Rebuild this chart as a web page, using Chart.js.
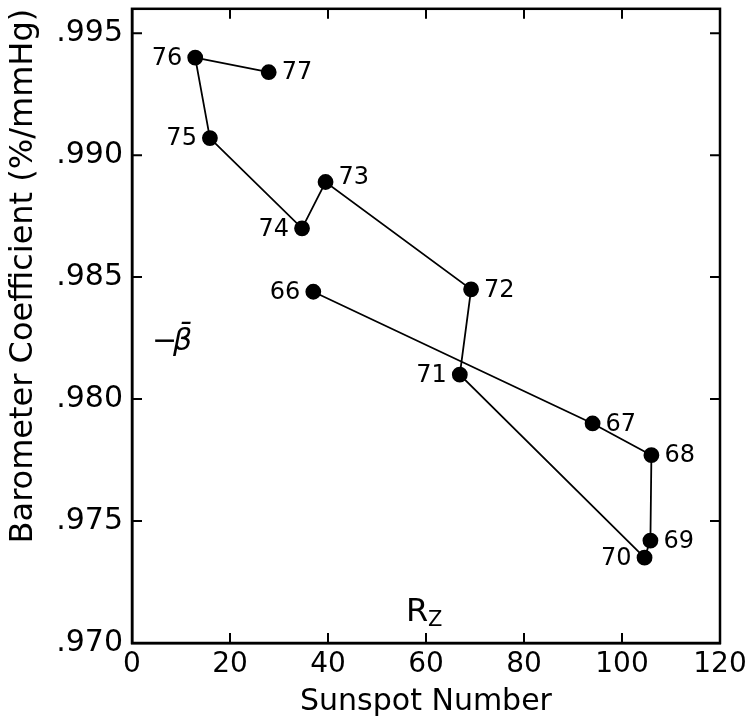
<!DOCTYPE html>
<html><head><meta charset="utf-8">
<script src="https://cdn.jsdelivr.net/npm/chart.js@4"></script>
<style>html,body{margin:0;padding:0;background:#fff}#wrap{width:748px;height:724px;position:relative}</style>
</head><body><div id="wrap"><canvas id="c"></canvas></div>
<script>
// ---- data ----
const years = ['66','67','68','69','70','71','72','73','74','75','76','77'];
const sunspotNumber = [37.0, 94.0, 106.0, 105.8, 104.6, 66.9, 69.2, 39.5, 34.7, 15.9, 12.9, 27.9];
const baroCoeff = [0.9844, 0.9790, 0.9777, 0.9742, 0.9735, 0.9810, 0.9845, 0.9889, 0.9870, 0.9907, 0.9940, 0.9934];
const xTicks = [0, 20, 40, 60, 80, 100, 120];
const yTicks = [0.970, 0.975, 0.980, 0.985, 0.990, 0.995];
const xTitle = 'Sunspot Number';
const yTitle = 'Barometer Coefficient (%/mmHg)';

// ---- style ----
const FONT = '"DejaVu Sans", sans-serif';
const leftLabelYears = ['66','70','71','74','75','76'];
const labelYOffset = {'73': -5};

const points = sunspotNumber.map((x, i) => ({x: x, y: baroCoeff[i]}));

const frameTicks = {
  id: 'frameTicks',
  afterDraw(chart) {
    const {ctx, chartArea: a, scales: {x, y}} = chart;
    ctx.save();
    ctx.strokeStyle = '#000';
    ctx.lineWidth = 2.5;
    ctx.strokeRect(a.left, a.top, a.right - a.left, a.bottom - a.top);
    ctx.lineWidth = 2;
    const L = 10;
    xTicks.forEach(v => {
      const px = x.getPixelForValue(v);
      if (Math.abs(px - a.left) < 2 || Math.abs(px - a.right) < 2) return;
      ctx.beginPath();
      ctx.moveTo(px, a.bottom); ctx.lineTo(px, a.bottom - L);
      ctx.moveTo(px, a.top); ctx.lineTo(px, a.top + L);
      ctx.stroke();
    });
    yTicks.forEach(v => {
      const py = y.getPixelForValue(v);
      if (Math.abs(py - a.bottom) < 2 || Math.abs(py - a.top) < 2) return;
      ctx.beginPath();
      ctx.moveTo(a.left, py); ctx.lineTo(a.left + L, py);
      ctx.moveTo(a.right, py); ctx.lineTo(a.right - L, py);
      ctx.stroke();
    });
    ctx.restore();
  }
};

const pointLabels = {
  id: 'pointLabels',
  afterDatasetsDraw(chart) {
    const {ctx} = chart;
    const meta = chart.getDatasetMeta(0);
    ctx.save();
    ctx.fillStyle = '#000';
    ctx.font = '24px ' + FONT;
    ctx.textBaseline = 'middle';
    meta.data.forEach((el, i) => {
      const yr = years[i];
      const left = leftLabelYears.includes(yr);
      ctx.textAlign = left ? 'right' : 'left';
      const dy = labelYOffset[yr] || 0;
      ctx.fillText(yr, el.x + (left ? -13 : 13), el.y + dy + 1);
    });
    // annotations
    const a = chart.chartArea;
    ctx.textAlign = 'left';
    ctx.textBaseline = 'alphabetic';
    ctx.font = '30px ' + FONT;
    ctx.fillText('\u2212', a.left + 20, a.top + 341);
    ctx.font = 'italic 30px ' + FONT;
    ctx.fillText('\u03B2\u0304', a.left + 41, a.top + 341);
    ctx.font = '32px ' + FONT;
    ctx.fillText('R', a.left + 274, a.top + 612);
    ctx.font = '21px ' + FONT;
    ctx.fillText('Z', a.left + 296, a.top + 617);
    ctx.restore();
  }
};

new Chart(document.getElementById('c'), {
  type: 'scatter',
  data: {
    datasets: [{
      data: points,
      showLine: true,
      borderColor: '#000',
      borderWidth: 1.8,
      backgroundColor: '#000',
      pointBackgroundColor: '#000',
      pointBorderColor: '#000',
      pointRadius: 7,
      pointHoverRadius: 7,
      tension: 0
    }]
  },
  options: {
    responsive: true,
    maintainAspectRatio: false,
    animation: false,
    events: [],
    layout: {padding: {top: 7, right: 28, left: 0, bottom: 0}},
    plugins: {legend: {display: false}, tooltip: {enabled: false}},
    scales: {
      x: {
        type: 'linear', min: 0, max: 120,
        afterBuildTicks: s => { s.ticks = xTicks.map(v => ({value: v})); },
        afterFit: s => { s.height = 81; s.paddingLeft = 0; s.paddingRight = 0; },
        grid: {display: true, drawOnChartArea: false, drawTicks: false},
        border: {display: true, color: '#000', width: 2.5},
        ticks: {color: '#000', font: {family: FONT, size: 28}, padding: 5, maxRotation: 0,
                callback: v => String(v)},
        title: {display: true, text: xTitle, color: '#000', font: {family: FONT, size: 30}, padding: {top: 0, bottom: 4}}
      },
      y: {
        type: 'linear', min: 0.970, max: 0.996,
        afterBuildTicks: s => { s.ticks = yTicks.map(v => ({value: v})); },
        afterFit: s => { s.width = 132; s.paddingTop = 0; s.paddingBottom = 0; },
        grid: {display: true, drawOnChartArea: false, drawTicks: false},
        border: {display: true, color: '#000', width: 2.5},
        ticks: {color: '#000', font: {family: FONT, size: 30}, padding: 9,
                callback: v => v.toFixed(3).slice(1)},
        title: {display: true, text: yTitle, align: 'end', color: '#000', font: {family: FONT, size: 32}, padding: {top: 4, bottom: 0}}
      }
    }
  },
  plugins: [frameTicks, pointLabels]
});
</script>
</body></html>
